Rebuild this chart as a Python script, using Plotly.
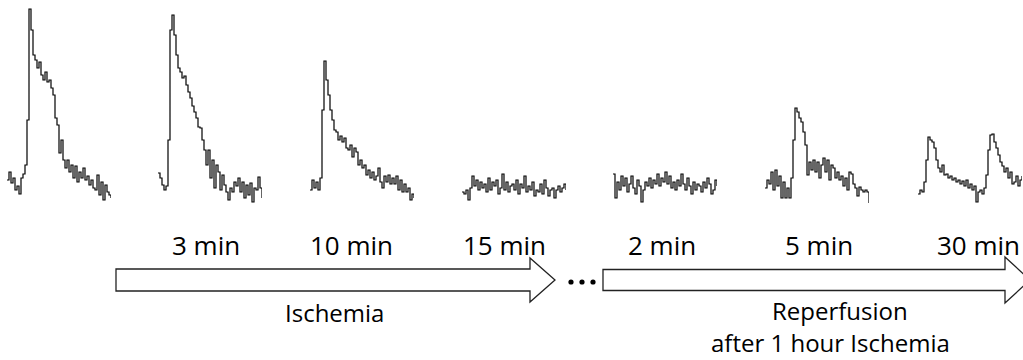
import plotly.graph_objects as go

# ---------------- data (signal amplitude, arbitrary units) ----------------
baseline = [24, 32, 21, 26, 14, 18, 10, 26, 30, 39, 84, 195, 174, 149, 144, 136, 142, 129,
            124, 132, 122, 124, 116, 109, 86, 79, 51, 64, 44, 36, 44, 32, 39, 26, 38, 22,
            32, 26, 36, 24, 28, 19, 24, 16, 14, 29, 9, 22, 4, 19, 12, 9, 6]
isch_3min = [31, 26, 19, 14, 18, 64, 174, 189, 169, 149, 136, 132, 126, 128, 119, 112, 106,
             98, 92, 86, 77, 76, 64, 54, 39, 54, 26, 44, 16, 39, 32, 14, 29, 19, 12, 4, 16,
             12, 22, 18, 26, 12, 22, 6, 19, 9, 21, 2, 16, 14, 27, 16, 6]
isch_10min = [14, 24, 16, 22, 14, 26, 94, 143, 124, 109, 94, 84, 74, 72, 64, 68, 62, 66, 56,
              54, 59, 47, 56, 52, 39, 44, 36, 39, 29, 34, 26, 32, 24, 28, 36, 22, 16, 28, 22,
              29, 20, 26, 20, 28, 14, 24, 12, 20, 12, 16, 4, 10, 6]
isch_15min = [12, 10, 14, 4, 16, 28, 18, 24, 14, 22, 16, 20, 12, 26, 14, 22, 18, 24, 10, 16,
              30, 14, 22, 12, 18, 20, 14, 24, 10, 20, 16, 28, 12, 18, 14, 22, 8, 14, 12, 20,
              10, 24, 16, 8, 14, 16, 6, 14, 18, 12, 16, 20, 14]
rep_2min = [30, 6, 22, 14, 28, 18, 26, 12, 20, 28, 16, 10, 24, 18, 2, 14, 22, 18, 26, 16, 24,
            20, 30, 18, 26, 22, 32, 20, 28, 16, 22, 14, 24, 18, 30, 20, 14, 26, 18, 10, 22,
            14, 20, 18, 12, 22, 16, 26, 20, 10, 14, 24, 18]
rep_5min = [16, 24, 20, 32, 14, 34, 18, 28, 6, 22, 6, 16, 6, 26, 64, 96, 92, 86, 82, 72, 59,
            29, 42, 34, 44, 32, 42, 26, 39, 46, 32, 44, 24, 39, 36, 26, 32, 24, 28, 18, 26,
            14, 32, 30, 20, 16, 8, 17, 14, 12, 14, 12, 1]
rep_30min = [10, 14, 12, 22, 44, 67, 64, 62, 56, 44, 36, 32, 39, 29, 30, 26, 28, 24, 26, 22,
             24, 20, 23, 18, 24, 16, 20, 14, 18, 2, 12, 14, 10, 16, 29, 54, 69, 70, 62, 56,
             49, 42, 38, 32, 36, 26, 32, 20, 22, 28, 18, 24, 28]

series = [baseline, isch_3min, isch_10min, isch_15min, rep_2min, rep_5min, rep_30min]
time_labels = ["3 min", "10 min", "15 min", "2 min", "5 min", "30 min"]
phase_labels = ["Ischemia", "Reperfusion", "after 1 hour Ischemia"]

# ---------------- layout constants (pixels in a 1023 x 360 canvas) ----------------
W, H = 1023, 360
trace_left = [7, 158, 310, 462, 613, 765, 918]
sample_px = 2.0
label_x = [206, 351, 504, 662, 819, 978]
label_y = 245
FONT = "Open Sans"
PHASE_SIZE = 24


def px(x):
    return x / W


def py(y):
    return 1 - y / H


fig = go.Figure()
layout_axes = {}
for k, vals in enumerate(series):
    n = len(vals)
    name = "" if k == 0 else str(k + 1)
    x0 = trace_left[k]
    x1 = min(x0 + sample_px * (n - 1), W)
    fig.add_trace(go.Scatter(
        x=list(range(n)), y=vals, mode="lines",
        line=dict(color="#000000", width=1.2, shape="hv"),
        xaxis="x" + name, yaxis="y", showlegend=False, hoverinfo="skip"))
    layout_axes["xaxis" + name] = dict(
        domain=[px(x0), px(x1)], range=[0, (x1 - x0) / sample_px],
        visible=False, anchor="y", fixedrange=True)

# y axis: value v maps to pixel row 204 - v
fig.update_layout(**layout_axes)
fig.update_layout(yaxis=dict(domain=[py(209), py(4)], range=[-5, 200], visible=False,
                             fixedrange=True))


def arrow_path(x_left, x_head, x_tip, y_mid, body_half, head_half):
    pts = [(x_left, y_mid - body_half), (x_head, y_mid - body_half),
           (x_head, y_mid - head_half), (x_tip, y_mid), (x_head, y_mid + head_half),
           (x_head, y_mid + body_half), (x_left, y_mid + body_half)]
    return "M" + " L".join(f"{px(a):.5f},{py(b):.5f}" for a, b in pts) + " Z"


shapes = [
    dict(type="path", xref="paper", yref="paper",
         path=arrow_path(116, 530, 555, 280, 11, 22),
         line=dict(color="#222", width=1.3), fillcolor="white"),
    dict(type="path", xref="paper", yref="paper",
         path=arrow_path(603, 1005, 1030, 280, 10.5, 23),
         line=dict(color="#222", width=1.3), fillcolor="white"),
]
for cx in [571, 582, 593]:
    shapes.append(dict(type="circle", xref="paper", yref="paper",
                       x0=px(cx - 2.6), x1=px(cx + 2.6), y0=py(282 + 2.6), y1=py(282 - 2.6),
                       fillcolor="black", line=dict(width=0)))

annotations = []
for t, lx in zip(time_labels, label_x):
    annotations.append(dict(text=t, x=px(lx), y=py(label_y), xref="paper", yref="paper",
                            showarrow=False, xanchor="center", yanchor="middle",
                            font=dict(family=FONT, size=26, color="black")))
annotations.append(dict(text=phase_labels[0], x=px(334), y=py(312), xref="paper",
                        yref="paper", showarrow=False, xanchor="center", yanchor="middle",
                        borderpad=0,
                        font=dict(family=FONT, size=PHASE_SIZE, color="black")))
annotations.append(dict(text=phase_labels[1], x=px(840), y=py(310), xref="paper",
                        yref="paper", showarrow=False, xanchor="center", yanchor="middle",
                        borderpad=0,
                        font=dict(family=FONT, size=PHASE_SIZE, color="black")))
annotations.append(dict(text=phase_labels[2], x=px(830), y=0, xref="paper",
                        yref="paper", showarrow=False, xanchor="center", yanchor="bottom",
                        borderpad=0,
                        font=dict(family=FONT, size=PHASE_SIZE, color="black")))

fig.update_layout(
    width=W, height=H, margin=dict(l=0, r=0, t=0, b=0),
    paper_bgcolor="white", plot_bgcolor="white",
    shapes=shapes, annotations=annotations, showlegend=False)

fig.write_html("out.html", config={"displayModeBar": False},
               post_script="document.body.style.margin='0';"
                           "document.body.style.overflow='hidden';")
